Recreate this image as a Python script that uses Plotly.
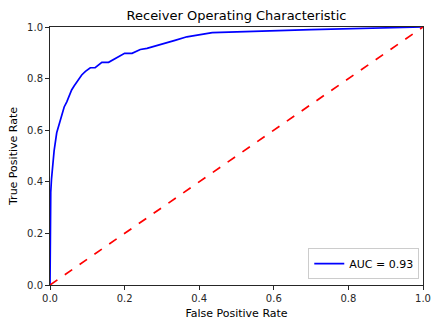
import plotly.graph_objects as go

fpr = [0.0, 0.0, 0.002, 0.004, 0.006, 0.011, 0.018, 0.025, 0.031, 0.038, 0.045, 0.052, 0.058,
       0.065, 0.072, 0.078, 0.085, 0.095, 0.108, 0.121, 0.13, 0.139, 0.157, 0.168, 0.179, 0.19,
       0.2, 0.22, 0.232, 0.242, 0.26, 0.3, 0.335, 0.367, 0.4, 0.435, 0.7, 1.0]
tpr = [0.0, 0.30, 0.36, 0.41, 0.45, 0.52, 0.59, 0.625, 0.665, 0.69, 0.71, 0.735, 0.756,
       0.772, 0.788, 0.80, 0.814, 0.828, 0.842, 0.842, 0.853, 0.863, 0.863, 0.872, 0.881, 0.892,
       0.898, 0.898, 0.908, 0.913, 0.917, 0.932, 0.948, 0.962, 0.970, 0.978, 0.99, 1.0]
diag = [0.0, 1.0]
auc_label = "AUC = 0.93"

fig = go.Figure()
fig.add_trace(go.Scatter(x=fpr, y=tpr, mode="lines", name=auc_label,
                         line=dict(color="#0000ff", width=1.7)))
fig.add_trace(go.Scatter(x=diag, y=diag, mode="lines", showlegend=False,
                         line=dict(color="#ff0000", width=1.7, dash="dash")))

axis_common = dict(range=[0, 1], showgrid=False, zeroline=False, showline=True, linecolor="#262626",
                   linewidth=1, mirror=True, ticks="outside", ticklen=4, tickcolor="#262626",
                   automargin=False,
                   tickvals=[0, 0.2, 0.4, 0.6, 0.8, 1.0], ticktext=["0.0", "0.2", "0.4", "0.6", "0.8", "1.0"],
                   tickfont=dict(family="DejaVu Sans", size=10, color="#262626"))

fig.update_layout(
    width=439, height=331, autosize=False,
    margin=dict(l=50, r=16, t=27, b=46, autoexpand=False),
    paper_bgcolor="white", plot_bgcolor="white",
    font=dict(family="DejaVu Sans", size=10, color="#262626"),
    title=dict(text="Receiver Operating Characteristic", x=0.5, xref="paper",
               y=1 - 15 / 331, yref="container", yanchor="middle", automargin=False,
               font=dict(family="DejaVu Sans", size=13, color="black")),
    xaxis=dict(**axis_common, title=dict(text="False Positive Rate", standoff=6,
                                          font=dict(family="DejaVu Sans", size=11, color="black"))),
    yaxis=dict(**axis_common, title=dict(text="True Positive Rate", standoff=7,
                                          font=dict(family="DejaVu Sans", size=11, color="black"))),
    legend=dict(x=0.99, y=0.023, xanchor="right", yanchor="bottom",
                bordercolor="#cccccc", borderwidth=1, bgcolor="rgba(255,255,255,0.8)",
                font=dict(family="DejaVu Sans", size=11, color="black"),
                tracegroupgap=0, itemwidth=30),
)

fig.write_html("out.html")
